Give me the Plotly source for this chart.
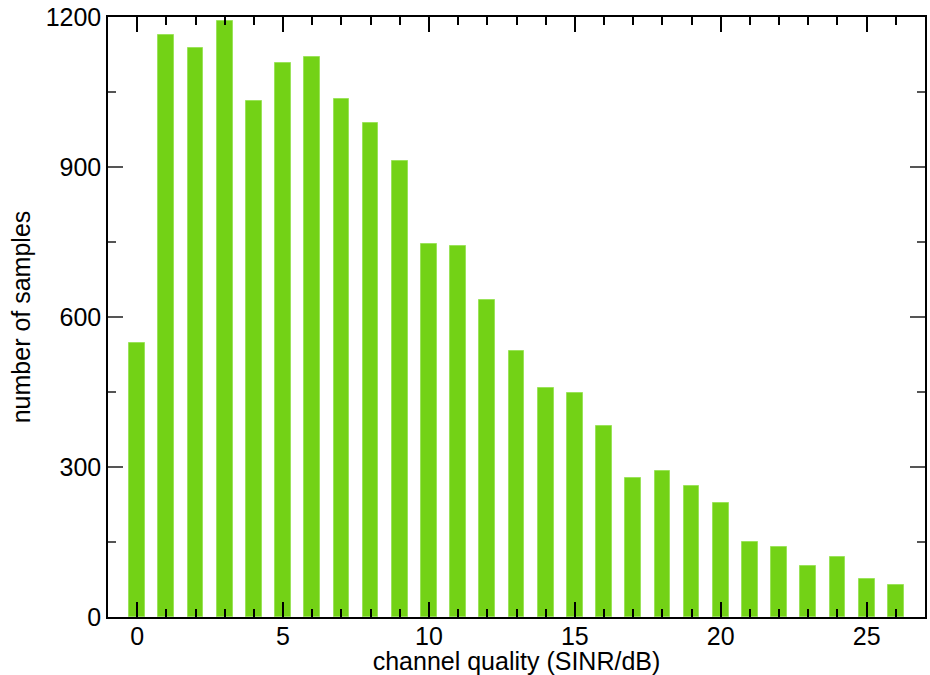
import plotly.graph_objects as go

sinr_db = list(range(27))
samples = [548, 1165, 1138, 1193, 1032, 1108, 1120, 1037, 988, 913,
           747, 743, 635, 532, 459, 449, 383, 279, 292, 262,
           229, 151, 140, 102, 121, 77, 65]
x_ticks = [0, 5, 10, 15, 20, 25]
y_ticks = [0, 300, 600, 900, 1200]

fig = go.Figure()
fig.add_trace(go.Bar(
    x=sinr_db, y=samples, width=0.54,
    marker=dict(color="#73d216", line=dict(color="#9be35a", width=1)),
))

font = dict(family="Liberation Sans, Arial, sans-serif", size=25, color="black")
fig.update_layout(
    width=930, height=675,
    margin=dict(l=108, r=5, t=17, b=58),
    paper_bgcolor="white", plot_bgcolor="white",
    showlegend=False, font=font, bargap=0,
)
fig.update_xaxes(
    range=[-1, 27], tickvals=x_ticks, ticks="inside", ticklen=15, tickwidth=1.5,
    tickcolor="black", showline=True, linecolor="black", linewidth=1.5,
    mirror="ticks", showgrid=False, zeroline=False, automargin=False,
    ticklabelstandoff=-4,
    minor=dict(dtick=1, ticks="inside", ticklen=8, tickwidth=1.5, tickcolor="black", showgrid=False),
    title=dict(text="channel quality (SINR/dB)", standoff=8, font=font),
    tickfont=font,
)
fig.update_yaxes(
    range=[0, 1200], tickvals=y_ticks, ticks="inside", ticklen=15, tickwidth=1.5,
    tickcolor="#555", showline=True, linecolor="black", linewidth=1.5,
    mirror="ticks", showgrid=False, zeroline=False, automargin=False,
    minor=dict(dtick=150, tick0=0, ticks="inside", ticklen=8, tickwidth=1.5, tickcolor="#555", showgrid=False),
    title=dict(text="number of samples", standoff=8, font=font),
    tickfont=font,
)
fig.write_html(
    "out.html",
    config={"displayModeBar": False},
    post_script="document.body.style.margin='0';document.body.style.overflow='hidden';",
)
